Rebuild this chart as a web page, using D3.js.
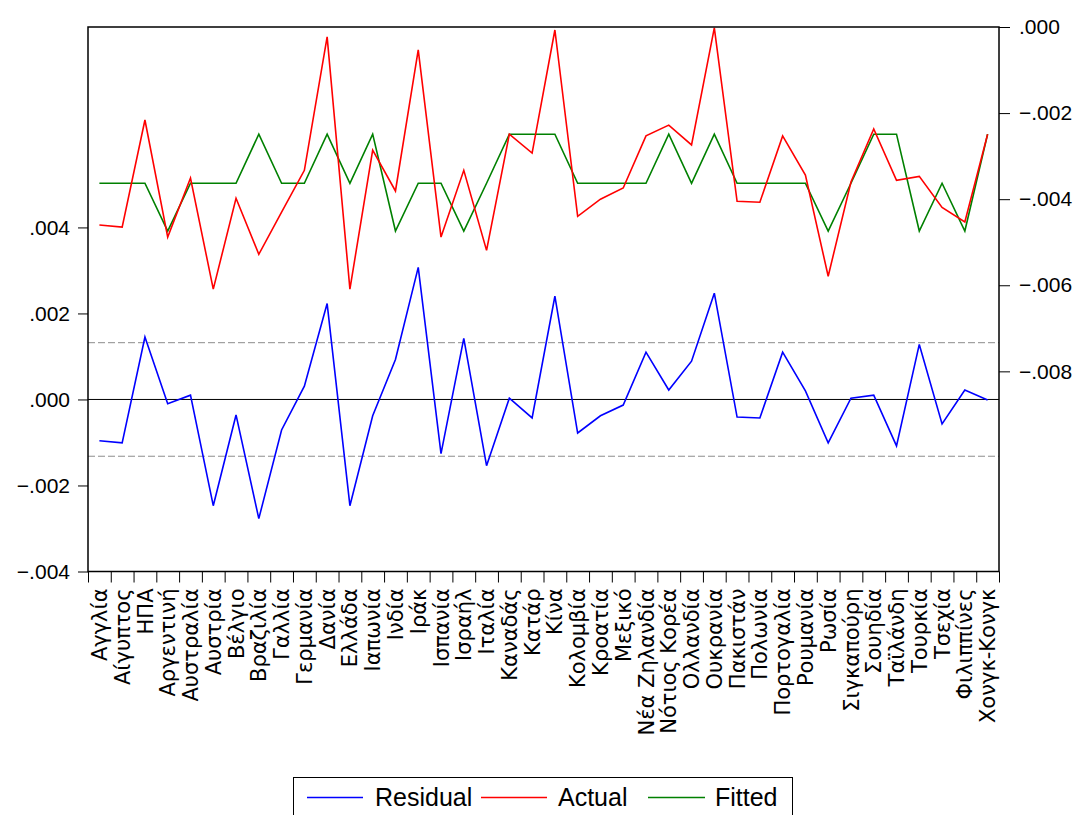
<!DOCTYPE html>
<html>
<head>
<meta charset="utf-8">
<script src="https://cdn.jsdelivr.net/npm/d3@7"></script>
<style>
  body { margin: 0; background: #fff; }
  svg { display: block; }
</style>
</head>
<body>
<div id="chart"></div>
<script>
// countries on the x axis
var countries = ["Αγγλία", "Αίγυπτος", "ΗΠΑ", "Αργεντινή", "Αυστραλία", "Αυστρία", "Βέλγιο",
  "Βραζιλία", "Γαλλία", "Γερμανία", "Δανία", "Ελλάδα", "Ιαπωνία", "Ινδία", "Ιράκ", "Ισπανία",
  "Ισραήλ", "Ιταλία", "Καναδάς", "Κατάρ", "Κίνα", "Κολομβία", "Κροατία", "Μεξικό",
  "Νέα Ζηλανδία", "Νότιος Κορέα", "Ολλανδία", "Ουκρανία", "Πακιστάν", "Πολωνία", "Πορτογαλία",
  "Ρουμανία", "Ρωσία", "Σιγκαπούρη", "Σουηδία", "Ταϊλάνδη", "Τουρκία", "Τσεχία", "Φιλιππίνες",
  "Χονγκ-Κονγκ"];

// right axis series
var actual = [-0.00460, -0.00465, -0.00216, -0.00488, -0.00351, -0.00609, -0.00398, -0.00528,
  -0.00430, -0.00333, -0.00023, -0.00609, -0.00286, -0.00381, -0.00053, -0.00488, -0.00333,
  -0.00519, -0.00249, -0.00293, -0.00007, -0.00440, -0.00400, -0.00374, -0.00253, -0.00228,
  -0.00274, -0.00002, -0.00405, -0.00407, -0.00253, -0.00344, -0.00579, -0.00360, -0.00237,
  -0.00356, -0.00347, -0.00419, -0.00453, -0.00249];

var fitted = [-0.00363, -0.00363, -0.00363, -0.00474, -0.00363, -0.00363, -0.00363, -0.00249,
  -0.00363, -0.00363, -0.00249, -0.00363, -0.00249, -0.00474, -0.00363, -0.00363, -0.00474,
  -0.00363, -0.00249, -0.00249, -0.00249, -0.00363, -0.00363, -0.00363, -0.00363, -0.00249,
  -0.00363, -0.00249, -0.00363, -0.00363, -0.00363, -0.00363, -0.00474, -0.00363, -0.00249,
  -0.00249, -0.00474, -0.00363, -0.00474, -0.00249];

// left axis series
var residual = [-0.00096, -0.00101, 0.00145, -0.00010, 0.00010, -0.00247, -0.00036, -0.00277,
  -0.00071, 0.00031, 0.00223, -0.00247, -0.00038, 0.00093, 0.00307, -0.00126, 0.00142,
  -0.00154, 0.00003, -0.00043, 0.00240, -0.00078, -0.00038, -0.00013, 0.00110, 0.00022,
  0.00089, 0.00247, -0.00041, -0.00043, 0.00110, 0.00020, -0.00101, 0.00003, 0.00010,
  -0.00108, 0.00128, -0.00057, 0.00022, -0.00001];

var leftTicks = [0.004, 0.002, 0, -0.002, -0.004];
var rightTicks = [0, -0.002, -0.004, -0.006, -0.008];
var stdBand = [0.00132, -0.00132];

var seriesNames = ["Residual", "Actual", "Fitted"];
var seriesColors = ["#0000ff", "#ff0000", "#008000"];

var W = 1078, H = 815;
var pLeft = 88, pRight = 999, pTop = 27, pBottom = 571.5;

var svg = d3.select("#chart").append("svg")
  .attr("width", W)
  .attr("height", H);

// scales
var x = d3.scaleBand().domain(countries).range([pLeft, pRight]).padding(0);
var xTick = d3.scaleLinear().domain([0, countries.length]).range([pLeft, pRight]);
var yL = d3.scaleLinear().domain([-0.004, 0.00866]).range([pBottom, pTop]);
var yR = d3.scaleLinear().domain([-0.01265, 0]).range([pBottom, pTop]);

var fmt = function (v) {
  if (v === 0) return ".000";
  return d3.format(".3f")(v).replace("0.", ".");
};

// reference lines
svg.selectAll(".band")
  .data(stdBand)
  .enter().append("line")
  .attr("x1", pLeft).attr("x2", pRight)
  .attr("y1", function (d) { return yL(d); })
  .attr("y2", function (d) { return yL(d); })
  .attr("stroke", "#8c8c8c")
  .attr("stroke-width", 1)
  .attr("stroke-dasharray", "7,3");

svg.append("line")
  .attr("x1", pLeft).attr("x2", pRight)
  .attr("y1", yL(0)).attr("y2", yL(0))
  .attr("stroke", "#000")
  .attr("stroke-width", 1);

// lines
var cx = function (d, i) { return x(countries[i]) + x.bandwidth() / 2; };

var lineL = d3.line().x(cx).y(function (d) { return yL(d); });
var lineR = d3.line().x(cx).y(function (d) { return yR(d); });

svg.append("path").datum(residual)
  .attr("fill", "none").attr("stroke", seriesColors[0]).attr("stroke-width", 1.6)
  .attr("d", lineL);

svg.append("path").datum(fitted)
  .attr("fill", "none").attr("stroke", seriesColors[2]).attr("stroke-width", 1.6)
  .attr("d", lineR);

svg.append("path").datum(actual)
  .attr("fill", "none").attr("stroke", seriesColors[1]).attr("stroke-width", 1.6)
  .attr("d", lineR);

// frame
svg.append("rect")
  .attr("x", pLeft).attr("y", pTop)
  .attr("width", pRight - pLeft).attr("height", pBottom - pTop)
  .attr("fill", "none").attr("stroke", "#000").attr("stroke-width", 1.5);

// left axis
var gL = svg.append("g")
  .attr("transform", "translate(" + pLeft + ",0)")
  .call(d3.axisLeft(yL).tickValues(leftTicks).tickSize(10).tickPadding(8).tickFormat(fmt));

// right axis
var gR = svg.append("g")
  .attr("transform", "translate(" + pRight + ",0)")
  .call(d3.axisRight(yR).tickValues(rightTicks).tickSize(11).tickPadding(9).tickFormat(fmt));

[gL, gR].forEach(function (g) {
  g.select(".domain").remove();
  g.selectAll(".tick line").attr("stroke", "#000").attr("stroke-width", 1);
  g.selectAll("text")
    .attr("fill", "#000")
    .style("font-family", "'Liberation Sans', Arial, sans-serif")
    .style("font-size", "21px");
});

// bottom ticks
var gB = svg.append("g")
  .attr("transform", "translate(0," + pBottom + ")")
  .call(d3.axisBottom(xTick).tickValues(d3.range(countries.length + 1)).tickSize(11).tickFormat(""));
gB.select(".domain").remove();
gB.selectAll(".tick line").attr("stroke", "#000").attr("stroke-width", 1);

// category labels
svg.append("g").selectAll("text")
  .data(countries)
  .enter().append("text")
  .attr("transform", function (d) {
    return "translate(" + (x(d) + x.bandwidth() / 2) + "," + (pBottom + 17) + ") rotate(-90)";
  })
  .attr("dy", "0.36em")
  .attr("text-anchor", "end")
  .style("font-family", "'DejaVu Sans', sans-serif")
  .style("font-size", "21px")
  .attr("fill", "#000")
  .text(function (d) { return d; });

// legend
var legend = svg.append("g");
legend.append("rect")
  .attr("x", 293.5).attr("y", 777.5)
  .attr("width", 499).attr("height", 40)
  .attr("fill", "#fff").attr("stroke", "#000").attr("stroke-width", 1);

var legLine = [[307, 363], [481, 547], [648, 705]];
var legText = [375, 558, 715];
seriesNames.forEach(function (name, i) {
  legend.append("line")
    .attr("x1", legLine[i][0]).attr("x2", legLine[i][1])
    .attr("y1", 797.5).attr("y2", 797.5)
    .attr("stroke", seriesColors[i]).attr("stroke-width", 1.3);
  legend.append("text")
    .attr("x", legText[i]).attr("y", 806)
    .style("font-family", "'Liberation Sans', Arial, sans-serif")
    .style("font-size", "25px")
    .attr("fill", "#000")
    .text(name);
});
</script>
</body>
</html>
